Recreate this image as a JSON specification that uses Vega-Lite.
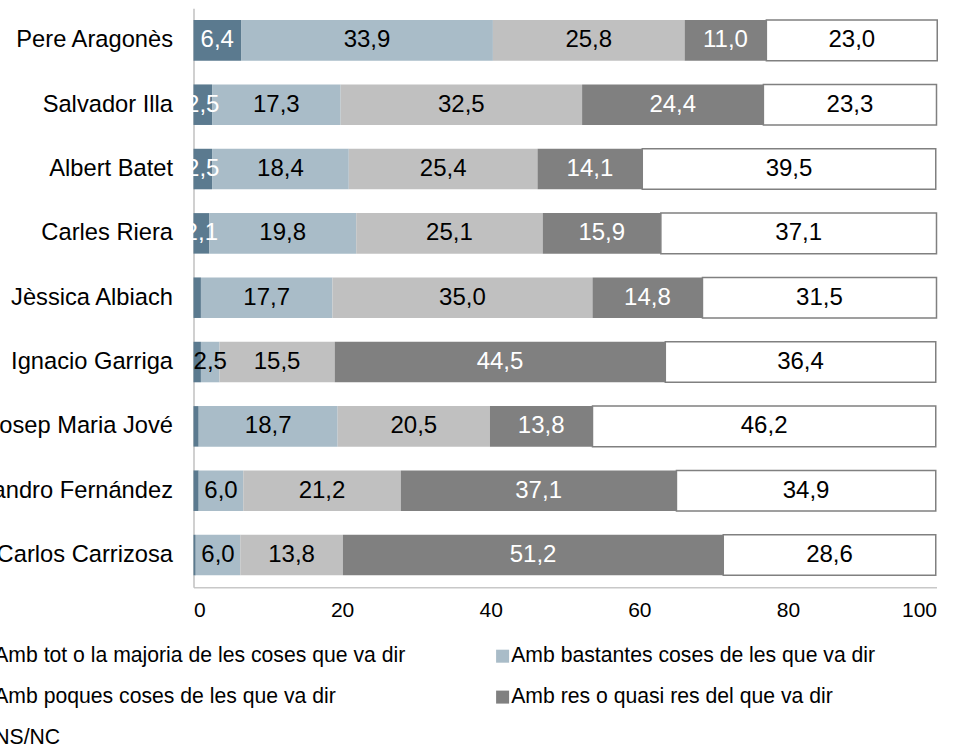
{
  "$schema": "https://vega.github.io/schema/vega-lite/v6.json",
  "autosize": "none",
  "width": 743,
  "height": 579,
  "padding": {"left": 193.5, "top": 8.2, "right": 18.5, "bottom": 159.8},
  "background": "white",
  "config": {
    "view": {"stroke": null},
    "font": "Liberation Sans",
    "locale": {"number": {"decimal": ",", "thousands": ".", "grouping": [3], "currency": ["", " €"]}}
  },
  "data": {
    "values": [
      {"name": "Pere Aragonès", "cat": "Amb tot o la majoria de les coses que va dir", "v": 6.4},
      {"name": "Pere Aragonès", "cat": "Amb bastantes coses de les que va dir", "v": 33.9},
      {"name": "Pere Aragonès", "cat": "Amb poques coses de les que va dir", "v": 25.8},
      {"name": "Pere Aragonès", "cat": "Amb res o quasi res del que va dir", "v": 11.0},
      {"name": "Pere Aragonès", "cat": "NS/NC", "v": 23.0},
      {"name": "Salvador Illa", "cat": "Amb tot o la majoria de les coses que va dir", "v": 2.5},
      {"name": "Salvador Illa", "cat": "Amb bastantes coses de les que va dir", "v": 17.3},
      {"name": "Salvador Illa", "cat": "Amb poques coses de les que va dir", "v": 32.5},
      {"name": "Salvador Illa", "cat": "Amb res o quasi res del que va dir", "v": 24.4},
      {"name": "Salvador Illa", "cat": "NS/NC", "v": 23.3},
      {"name": "Albert Batet", "cat": "Amb tot o la majoria de les coses que va dir", "v": 2.5},
      {"name": "Albert Batet", "cat": "Amb bastantes coses de les que va dir", "v": 18.4},
      {"name": "Albert Batet", "cat": "Amb poques coses de les que va dir", "v": 25.4},
      {"name": "Albert Batet", "cat": "Amb res o quasi res del que va dir", "v": 14.1},
      {"name": "Albert Batet", "cat": "NS/NC", "v": 39.5},
      {"name": "Carles Riera", "cat": "Amb tot o la majoria de les coses que va dir", "v": 2.1},
      {"name": "Carles Riera", "cat": "Amb bastantes coses de les que va dir", "v": 19.8},
      {"name": "Carles Riera", "cat": "Amb poques coses de les que va dir", "v": 25.1},
      {"name": "Carles Riera", "cat": "Amb res o quasi res del que va dir", "v": 15.9},
      {"name": "Carles Riera", "cat": "NS/NC", "v": 37.1},
      {"name": "Jèssica Albiach", "cat": "Amb tot o la majoria de les coses que va dir", "v": 1.0},
      {"name": "Jèssica Albiach", "cat": "Amb bastantes coses de les que va dir", "v": 17.7},
      {"name": "Jèssica Albiach", "cat": "Amb poques coses de les que va dir", "v": 35.0},
      {"name": "Jèssica Albiach", "cat": "Amb res o quasi res del que va dir", "v": 14.8},
      {"name": "Jèssica Albiach", "cat": "NS/NC", "v": 31.5},
      {"name": "Ignacio Garriga\u00a0", "cat": "Amb tot o la majoria de les coses que va dir", "v": 1.0},
      {"name": "Ignacio Garriga\u00a0", "cat": "Amb bastantes coses de les que va dir", "v": 2.5},
      {"name": "Ignacio Garriga\u00a0", "cat": "Amb poques coses de les que va dir", "v": 15.5},
      {"name": "Ignacio Garriga\u00a0", "cat": "Amb res o quasi res del que va dir", "v": 44.5},
      {"name": "Ignacio Garriga\u00a0", "cat": "NS/NC", "v": 36.4},
      {"name": "Josep Maria Jové", "cat": "Amb tot o la majoria de les coses que va dir", "v": 0.7},
      {"name": "Josep Maria Jové", "cat": "Amb bastantes coses de les que va dir", "v": 18.7},
      {"name": "Josep Maria Jové", "cat": "Amb poques coses de les que va dir", "v": 20.5},
      {"name": "Josep Maria Jové", "cat": "Amb res o quasi res del que va dir", "v": 13.8},
      {"name": "Josep Maria Jové", "cat": "NS/NC", "v": 46.2},
      {"name": "Alejandro Fernández", "cat": "Amb tot o la majoria de les coses que va dir", "v": 0.7},
      {"name": "Alejandro Fernández", "cat": "Amb bastantes coses de les que va dir", "v": 6.0},
      {"name": "Alejandro Fernández", "cat": "Amb poques coses de les que va dir", "v": 21.2},
      {"name": "Alejandro Fernández", "cat": "Amb res o quasi res del que va dir", "v": 37.1},
      {"name": "Alejandro Fernández", "cat": "NS/NC", "v": 34.9},
      {"name": "Carlos Carrizosa", "cat": "Amb tot o la majoria de les coses que va dir", "v": 0.3},
      {"name": "Carlos Carrizosa", "cat": "Amb bastantes coses de les que va dir", "v": 6.0},
      {"name": "Carlos Carrizosa", "cat": "Amb poques coses de les que va dir", "v": 13.8},
      {"name": "Carlos Carrizosa", "cat": "Amb res o quasi res del que va dir", "v": 51.2},
      {"name": "Carlos Carrizosa", "cat": "NS/NC", "v": 28.6}
    ]
  },
  "transform": [
    {"calculate": "indexof(['Amb tot o la majoria de les coses que va dir','Amb bastantes coses de les que va dir','Amb poques coses de les que va dir','Amb res o quasi res del que va dir','NS/NC'], datum.cat)", "as": "ord"},
    {"stack": "v", "groupby": ["name"], "sort": [{"field": "ord", "order": "ascending"}], "as": ["v0", "v1"]},
    {"calculate": "(datum.v0 + datum.v1) / 2", "as": "mid"}
  ],
  "encoding": {
    "y": {
      "field": "name",
      "type": "nominal",
      "sort": null,
      "title": null,
      "scale": {"paddingInner": 0.37, "paddingOuter": 0.185},
      "axis": {
        "ticks": false,
        "tickSize": 0,
        "labelPadding": 21,
        "labelFontSize": 23.7,
        "labelColor": "#000000",
        "labelLimit": 400,
        "domainColor": "#c0c0c0",
        "domainWidth": 1.5
      }
    }
  },
  "layer": [
    {
      "mark": {"type": "bar", "strokeWidth": 1.5},
      "encoding": {
        "x": {
          "field": "v0",
          "type": "quantitative",
          "title": null,
          "scale": {"domain": [0, 100], "nice": false},
          "axis": {
            "values": [0, 20, 40, 60, 80, 100],
            "ticks": false,
            "tickSize": 0,
            "grid": false,
            "labelPadding": 12,
            "labelFontSize": 21,
            "labelColor": "#000000",
            "domainColor": "#c8c8c8",
            "domainWidth": 1.5,
            "format": "d"
          }
        },
        "x2": {"field": "v1"},
        "color": {
          "field": "cat",
          "type": "nominal",
          "scale": {
            "domain": ["Amb tot o la majoria de les coses que va dir", "Amb poques coses de les que va dir", "NS/NC", "Amb bastantes coses de les que va dir", "Amb res o quasi res del que va dir"],
            "range": ["#5b7a8f", "#c0c0c0", "#ffffff", "#a9bcc8", "#808080"]
          },
          "legend": {
            "title": null,
            "orient": "none",
            "legendX": -218.5,
            "legendY": 637.3,
            "columns": 2,
            "columnPadding": 86,
            "rowPadding": 19,
            "padding": 0,
            "symbolType": "square",
            "symbolSize": 169,
            "symbolStrokeWidth": 0,
            "labelFontSize": 21.2,
            "labelColor": "#000000",
            "labelLimit": 600,
            "labelOffset": -2
          }
        },
        "stroke": {
          "condition": {"test": "datum.cat === 'NS/NC'", "value": "#808080"},
          "value": "transparent"
        }
      }
    },
    {
      "transform": [{"filter": "datum.v >= 2"}],
      "mark": {"type": "text", "fontSize": 24, "baseline": "middle", "align": "center"},
      "encoding": {
        "x": {"field": "mid", "type": "quantitative"},
        "text": {"field": "v", "type": "quantitative", "format": ".1f"},
        "color": {
          "condition": {"test": "datum.ord === 0 || datum.ord === 3", "value": "#ffffff"},
          "value": "#000000"
        }
      }
    }
  ]
}
